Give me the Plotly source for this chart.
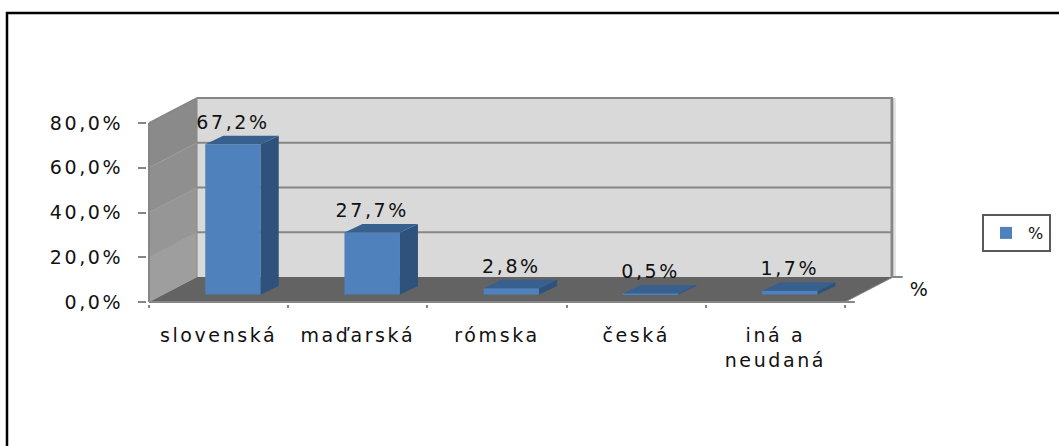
import plotly.graph_objects as go

categories = ["slovenská", "maďarská", "rómska", "česká", "iná a<br>neudaná"]
values = [67.2, 27.7, 2.8, 0.5, 1.7]
value_labels = ["67,2%", "27,7%", "2,8%", "0,5%", "1,7%"]
y_ticks = [0, 20, 40, 60, 80]
y_tick_labels = ["0,0%", "20,0%", "40,0%", "60,0%", "80,0%"]
series_name = "%"

W, H = 1059, 446
PX_CAT = 139.2
PX_PCT = (301.7 - 122.7) / 80
PAD_L, PAD_B, PAD_T, PAD_R = 2, 2, 3, 14   # px of room round the box so its edges are not clipped
PLOT_L, PLOT_R, PLOT_T, PLOT_B = 149 - PAD_L, 893 + PAD_R, 98 - PAD_T, 301.7 + PAD_B
DX = 48 / PX_CAT          # wall depth in category units
DY = 25 / PX_PCT          # wall depth in percent units
BAR_W = 55.5 / PX_CAT
BAR_DX = 18 / PX_CAT
BAR_DY = 8.4 / PX_PCT
OFF_X = 0.3 * DX
OFF_Y = 0.3 * DY
LEFT, RIGHT = -0.5, 4.5
GRID = "#868686"
FRONT, SIDE, TOP = "#4F81BD", "#2F527D", "#38608F"
WALL_BANDS = ["#9E9E9E", "#969696", "#8F8F8F", "#8A8A8A"]
FONT = "DejaVu Sans"
FS = 19


def poly(pts):
    return "M " + " L ".join(f"{x} {y}" for x, y in pts) + " Z"


def px(x):
    return (x - PLOT_L) / (PLOT_R - PLOT_L)


def py(y):
    return (PLOT_B - y) / (PLOT_B - PLOT_T)


def seg(x0, y0, x1, y1, color=GRID, width=2):
    return dict(type="line", x0=x0, x1=x1, y0=y0, y1=y1, line=dict(color=color, width=width), layer="below")


shapes = [
    dict(type="path", path=poly([(LEFT + DX, DY), (RIGHT + DX, DY), (RIGHT + DX, 80 + DY), (LEFT + DX, 80 + DY)]),
         fillcolor="#D9D9D9", line_width=0, layer="below"),
]
for lo, hi, col in zip(y_ticks[:-1], y_ticks[1:], WALL_BANDS):
    shapes.append(dict(type="path", path=poly([(LEFT, lo), (LEFT + DX, lo + DY), (LEFT + DX, hi + DY), (LEFT, hi)]),
                       fillcolor=col, line_width=0, layer="below"))
shapes.append(dict(type="path", path=poly([(LEFT, 0), (RIGHT, 0), (RIGHT + DX, DY), (LEFT + DX, DY)]),
                   fillcolor="#636363", line_width=0, layer="below"))
for t in y_ticks[1:]:
    shapes.append(seg(LEFT + DX, t + DY, RIGHT + DX, t + DY))
    shapes.append(seg(LEFT, t, LEFT + DX, t + DY, "#9A9A9A", 1))
shapes += [
    seg(RIGHT + DX + 2 / PX_CAT, DY, RIGHT + DX + 2 / PX_CAT, 80 + DY, "#E4E4E4", 2),
    seg(LEFT, 0, LEFT, 80),
    seg(LEFT + DX, DY, LEFT + DX, 80 + DY, GRID, 1),
    seg(LEFT, 0, RIGHT, 0),
    seg(RIGHT, 0, RIGHT + DX, DY, GRID, 1),
    seg(RIGHT + DX - 1 / PX_CAT, DY, RIGHT + DX - 1 / PX_CAT, 80 + DY, GRID, 3),
    seg(LEFT, 80, LEFT + DX, 80 + DY, GRID, 1.5),
    seg(LEFT + DX, 80 + DY, RIGHT + DX, 80 + DY),
    seg(RIGHT + DX, DY, RIGHT + DX + 0.07, DY),
    seg(RIGHT, 0, RIGHT + 0.07, 0),
    # outer frame
    dict(type="line", xref="paper", yref="paper", x0=px(6), x1=px(W), y0=py(13), y1=py(13),
         line=dict(color="black", width=2.5)),
    dict(type="line", xref="paper", yref="paper", x0=px(7), x1=px(7), y0=py(H), y1=py(12),
         line=dict(color="black", width=2.5)),
]

fig = go.Figure()
xs = [i + OFF_X for i in range(len(values))]
fig.add_trace(go.Bar(x=xs, y=values, base=OFF_Y, width=BAR_W, name=series_name,
                     marker=dict(color=FRONT, line_width=0), showlegend=True))
for xc, v in zip(xs, values):
    xl, xr = xc - BAR_W / 2, xc + BAR_W / 2
    b, t = OFF_Y, OFF_Y + v
    side_pts = [(xr, b), (xr + BAR_DX, b + BAR_DY), (xr + BAR_DX, t + BAR_DY), (xr, t), (xr, b)]
    top_pts = [(xl, t), (xr, t), (xr + BAR_DX, t + BAR_DY), (xl + BAR_DX, t + BAR_DY), (xl, t)]
    for pts, col in ((side_pts, SIDE), (top_pts, TOP)):
        fig.add_trace(go.Scatter(x=[p[0] for p in pts], y=[p[1] for p in pts], mode="lines",
                                 fill="toself", fillcolor=col, line=dict(width=0, color=col),
                                 showlegend=False, hoverinfo="skip"))

fig.add_trace(go.Scatter(x=xs, y=[OFF_Y + v + 20 / PX_PCT for v in values], mode="text",
                         text=value_labels, textposition="middle center",
                         textfont=dict(family=FONT, size=FS, color="#111111"),
                         showlegend=False, hoverinfo="skip", cliponaxis=False))

fig.update_layout(
    width=W, height=H, autosize=False,
    margin=dict(l=PLOT_L, r=W - PLOT_R, t=PLOT_T, b=H - PLOT_B, pad=0),
    paper_bgcolor="white", plot_bgcolor="rgba(0,0,0,0)",
    font=dict(family=FONT, size=FS, color="#111111"),
    shapes=shapes,
    showlegend=True,
    legend=dict(xref="container", yref="container", x=982 / W, xanchor="left", y=1 - 214 / H, yanchor="top",
                bordercolor="#595959", borderwidth=2, bgcolor="white",
                font=dict(family=FONT, size=16), itemwidth=34),
    xaxis=dict(range=[LEFT - PAD_L / PX_CAT, RIGHT + DX + PAD_R / PX_CAT], tickmode="array",
               tickvals=list(range(len(categories))), ticktext=categories,
               showgrid=False, zeroline=False, showline=False, ticks="", ticklabelstandoff=18,
               minor=dict(tickmode="array", tickvals=[i - 0.5 for i in range(len(categories) + 1)],
                          ticks="outside", ticklen=3, tickcolor=GRID, tickwidth=2, showgrid=False)),
    yaxis=dict(range=[-PAD_B / PX_PCT, 80 + DY + PAD_T / PX_PCT], tickmode="array", tickvals=y_ticks,
               ticktext=y_tick_labels, showgrid=False, zeroline=False, showline=False,
               ticks="outside", ticklen=8, tickcolor=GRID, tickwidth=2, ticklabelstandoff=11),
    annotations=[dict(text=series_name, xref="paper", yref="paper", x=px(920), y=py(289),
                      xanchor="center", yanchor="middle", showarrow=False,
                      font=dict(family=FONT, size=FS, color="#111111"))],
)

post = """
var s=document.createElement('style');
s.textContent='html,body{margin:0;padding:0;background:white} .main-svg text{letter-spacing:2.6px}';
document.head.appendChild(s);
"""
fig.write_html("out.html", post_script=post, config={"displayModeBar": False})
